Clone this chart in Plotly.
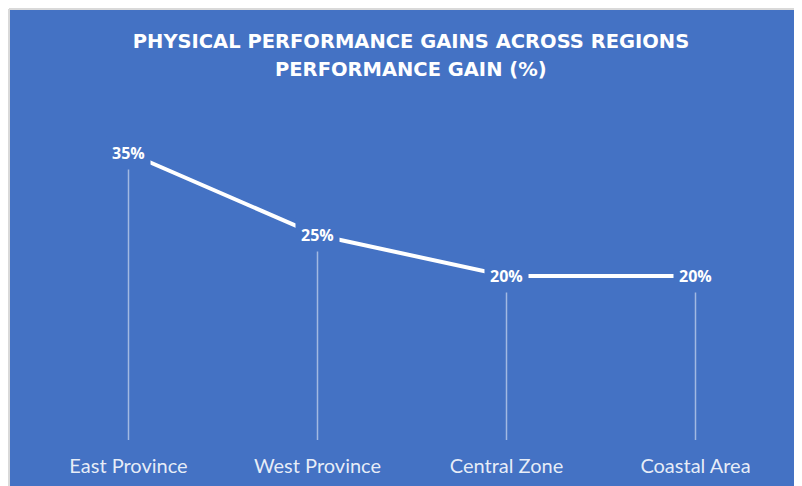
import plotly.graph_objects as go

regions = ["East Province", "West Province", "Central Zone", "Coastal Area"]
gains = [35, 25, 20, 20]
gain_labels = ["35%", "25%", "20%", "20%"]

BLUE = "#4472C4"
OFF = 8  # page body margin
W, H = 802 - OFF, 486 - OFF
L, R, T, B = 26, 12, 104, 46
PW, PH = W - L - R, H - T - B


def px_x(px):
    return (px - OFF - L) / PW


def px_y(py):
    return (H - B - (py - OFF)) / PH


fig = go.Figure()
fig.add_trace(go.Scatter(
    x=regions, y=gains, mode="lines",
    line=dict(color="white", width=4),
    error_y=dict(type="data", symmetric=False,
                 array=[0] * len(gains), arrayminus=gains,
                 color="rgba(255,255,255,0.5)", thickness=1.5, width=0),
    hoverinfo="skip", showlegend=False,
))

for r, v, t in zip(regions, gains, gain_labels):
    fig.add_annotation(x=r, y=v, text=t, showarrow=False,
                       bgcolor=BLUE, borderpad=5,
                       font=dict(family="Open Sans", size=16, color="white", weight="bold"))

fig.add_annotation(xref="paper", yref="paper", x=px_x(411), y=px_y(69),
                   text="PERFORMANCE GAIN (%)", showarrow=False,
                   yanchor="middle", xanchor="center",
                   font=dict(family="DejaVu Sans", size=19.5, color="white", weight="bold"))

# chart background with light border on the top and left edges
fig.add_shape(type="rect", xref="paper", yref="paper", layer="below",
              x0=px_x(9), x1=px_x(830), y0=px_y(9), y1=px_y(520),
              fillcolor=BLUE, line=dict(width=0))
fig.add_shape(type="line", xref="paper", yref="paper", layer="below",
              x0=px_x(9), x1=px_x(830), y0=px_y(9), y1=px_y(9),
              line=dict(color="#d9d9d9", width=2))
fig.add_shape(type="line", xref="paper", yref="paper", layer="below",
              x0=px_x(9), x1=px_x(9), y0=px_y(9), y1=px_y(520),
              line=dict(color="#d9d9d9", width=2))

fig.update_layout(
    width=W, height=H,
    margin=dict(l=L, r=R, t=T, b=B),
    paper_bgcolor="white", plot_bgcolor="rgba(0,0,0,0)",
    title=dict(text="PHYSICAL PERFORMANCE GAINS ACROSS REGIONS",
               x=(411 - OFF) / W, xanchor="center", xref="container",
               y=1 - (41 - OFF) / H, yanchor="middle", yref="container",
               font=dict(family="DejaVu Sans", size=19.5, color="white", weight="bold")),
    xaxis=dict(range=[-0.5, len(regions) - 0.5], showgrid=False, zeroline=False,
               showline=False, ticks="", automargin=False,
               tickfont=dict(family="Lato", size=20, color="rgba(255,255,255,0.88)"),
               ticklabelstandoff=12, fixedrange=True),
    yaxis=dict(range=[0, 40], visible=False, showgrid=False, zeroline=False,
               automargin=False, fixedrange=True),
    showlegend=False,
)

fig.write_html("out.html")
